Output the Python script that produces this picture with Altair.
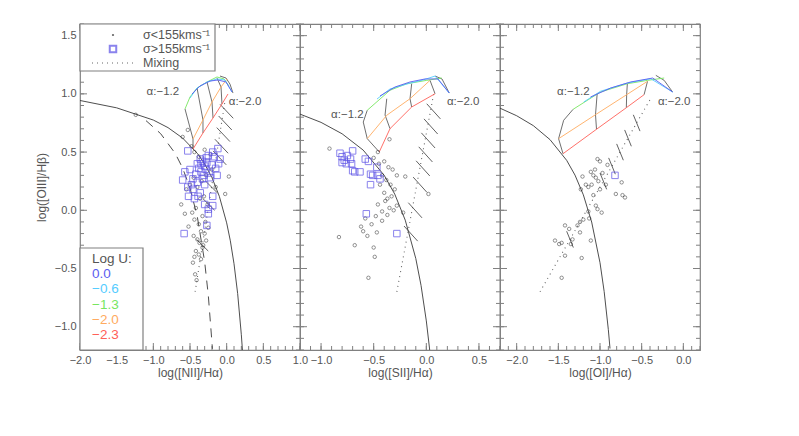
import altair as alt
import pandas as pd

FRAME = '#808080'
TXT = '#555555'
FONT = 'Liberation Sans'
H = 326
W1, W2, W3 = 220, 200, 200

# ---------------- axes ----------------
Y_DOMAIN = [-1.2, 1.6]
X1_DOMAIN = [-2.0, 1.0]
X2_DOMAIN = [-1.2, 0.7]
X3_DOMAIN = [-2.2, 0.2]
Y_MAJOR = [-1.0, -0.5, 0.0, 0.5, 1.0, 1.5]
X1_MAJOR = [-2.0, -1.5, -1.0, -0.5, 0.0, 0.5, 1.0]
X2_MAJOR = [-1.0, -0.5, 0.0, 0.5]
X3_MAJOR = [-2.0, -1.5, -1.0, -0.5, 0.0]
Y_MINOR = [k / 10 for k in range(-12, 17)]
X1_MINOR = [k / 10 for k in range(-20, 11)]
X2_MINOR = [k / 10 for k in range(-12, 8)]
X3_MINOR = [k / 10 for k in range(-22, 3)]

U_LEVELS = ['0.0', '−0.6', '−1.3', '−2.0', '−2.3']
U_COLORS = ['#5a5cf0', '#55ccff', '#77e65f', '#ffab60', '#ff6058']

# ---------------- demarcation curves ----------------
kew1_x = [-2.0, -1.5, -1.0, -0.8, -0.6, -0.4, -0.3, -0.2, -0.1, 0.0, 0.05, 0.1, 0.15, 0.2, 0.215]
kew1_y = [0.943, 0.880, 0.775, 0.710, 0.620, 0.489, 0.398, 0.280, 0.120, -0.108, -0.262, -0.459, -0.716, -1.069, -1.20]
kau1_x = [-1.1, -0.9, -0.7, -0.6, -0.5, -0.4, -0.3, -0.25, -0.2, -0.195]
kau1_y = [0.770, 0.658, 0.487, 0.362, 0.191, -0.056, -0.443, -0.733, -1.14, -1.19]
kew2_x = [-1.2, -1.0, -0.8, -0.6, -0.4, -0.3, -0.2, -0.1, -0.05, 0.0, 0.03, 0.032]
kew2_y = [0.826, 0.755, 0.657, 0.517, 0.300, 0.139, -0.085, -0.414, -0.646, -0.95, -1.183, -1.20]
kew3_x = [-2.2, -2.0, -1.8, -1.6, -1.4, -1.3, -1.2, -1.1, -1.0, -0.95, -0.9, -0.88]
kew3_y = [0.877, 0.812, 0.727, 0.607, 0.429, 0.302, 0.133, -0.101, -0.450, -0.698, -1.025, -1.187]

# ---------------- mixing lines (dotted) ----------------
mix1_x = [-0.43, -0.02]
mix1_y = [-0.70, 0.95]
mix2_x = [-0.28, 0.07]
mix2_y = [-0.70, 1.00]
mix3_x = [-1.72, -0.40]
mix3_y = [-0.70, 0.95]

# short hatch segments along the mixing lines
hat1_x1 = [-0.09, -0.11, -0.135, -0.16, -0.185, -0.287, -0.324, -0.411]
hat1_y1 = [0.91, 0.81, 0.71, 0.61, 0.51, 0.25, 0.10, -0.25]
hat1_x2 = [0.09, 0.07, 0.045, 0.02, -0.005, -0.127, -0.164, -0.251]
hat1_y2 = [0.79, 0.69, 0.59, 0.49, 0.39, 0.15, 0.00, -0.35]
hat2_x1 = [0.004, -0.022, -0.047, -0.072, -0.097, -0.125, -0.171, -0.212]
hat2_y1 = [0.915, 0.785, 0.665, 0.545, 0.425, 0.285, 0.065, -0.135]
hat2_x2 = [0.134, 0.108, 0.083, 0.058, 0.033, 0.005, -0.041, -0.082]
hat2_y2 = [0.785, 0.655, 0.535, 0.415, 0.295, 0.155, -0.065, -0.265]
hat3_x1 = [-0.60, -0.704, -0.80, -0.896, -1.00, -1.40]
hat3_y1 = [0.82, 0.69, 0.57, 0.45, 0.32, -0.18]
hat3_x2 = [-0.52, -0.624, -0.72, -0.816, -0.92, -1.32]
hat3_y2 = [0.68, 0.55, 0.43, 0.31, 0.18, -0.32]

# ---------------- AGN model grids ----------------
grid1_u = {
    '0.0': ([-0.473, -0.364, -0.227, -0.118, -0.009, 0.073], [0.999, 1.067, 1.110, 1.119, 1.102, 1.016]),
    '−0.6': ([-0.500, -0.404, -0.268, -0.132, -0.023, 0.073], [0.964, 1.050, 1.102, 1.128, 1.119, 1.016]),
    '−1.3': ([-0.568, -0.500, -0.404, -0.268, -0.132, -0.036, 0.032], [0.870, 0.973, 1.050, 1.102, 1.145, 1.128, 1.067]),
    '−2.0': ([-0.459, -0.323, -0.200, -0.077, 0.005], [0.612, 0.776, 0.930, 1.059, 1.128]),
    '−2.3': ([-0.459, -0.323, -0.186, -0.064, 0.018], [0.526, 0.664, 0.793, 0.913, 0.999]),
}
grid1_a = [
    ([-0.568, -0.459, -0.459], [0.870, 0.612, 0.526]),
    ([-0.404, -0.323, -0.323], [1.050, 0.776, 0.664]),
    ([-0.268, -0.200, -0.186], [1.102, 0.930, 0.793]),
    ([-0.132, -0.077, -0.064], [1.136, 1.059, 0.913]),
    ([-0.091, -0.009, 0.045, 0.086], [1.153, 1.136, 1.084, 1.007]),
]
grid2_u = {
    '0.0': ([-0.440, -0.297, -0.155, -0.012, 0.111, 0.218], [0.982, 1.059, 1.102, 1.128, 1.128, 1.007]),
    '−0.6': ([-0.468, -0.345, -0.183, -0.031, 0.083, 0.218], [0.956, 1.042, 1.085, 1.119, 1.153, 1.007]),
    '−1.3': ([-0.561, -0.345, -0.186, 0.004, 0.146], [0.859, 1.031, 1.087, 1.116, 1.136]),
    '−2.0': ([-0.561, -0.376, -0.155, 0.035], [0.615, 0.816, 0.958, 1.116]),
    '−2.3': ([-0.447, -0.345, -0.139, 0.083], [0.501, 0.701, 0.887, 1.001]),
}
grid2_a = [
    ([-0.561, -0.599, -0.561, -0.447], [0.859, 0.758, 0.615, 0.501]),
    ([-0.376, -0.392, -0.345], [0.958, 0.818, 0.701]),
    ([-0.139, -0.155, -0.139], [1.087, 0.958, 0.887]),
    ([0.035, 0.083], [1.116, 1.001]),
    ([0.083, 0.149, 0.218], [1.153, 1.128, 1.007]),
]
grid3_u = {
    '0.0': ([-1.114, -0.873, -0.632, -0.367, -0.129], [0.973, 1.050, 1.102, 1.136, 1.016]),
    '−0.6': ([-1.195, -0.994, -0.672, -0.391, -0.129], [0.930, 1.022, 1.093, 1.130, 1.016]),
    '−1.3': ([-1.323, -0.994, -0.672, -0.430, -0.230], [0.867, 1.016, 1.087, 1.116, 1.136]),
    '−2.0': ([-1.497, -1.054, -0.680, -0.430], [0.615, 0.821, 0.993, 1.108]),
    '−2.3': ([-1.444, -1.042, -0.684, -0.471], [0.486, 0.696, 0.881, 0.993]),
}
grid3_a = [
    ([-1.323, -1.436, -1.497, -1.444], [0.867, 0.773, 0.615, 0.486]),
    ([-1.034, -1.054, -1.042], [1.001, 0.821, 0.696]),
    ([-0.672, -0.680, -0.684], [1.087, 0.993, 0.881]),
    ([-0.430, -0.471], [1.108, 0.993]),
    ([-0.330, -0.230, -0.129], [1.159, 1.116, 1.016]),
]

# alpha labels
alab1 = ([-0.87, 0.25], [1.02, 0.93], ['α:−1.2', 'α:−2.0'])
alab2 = ([-0.75, 0.35], [0.82, 0.93], ['α:−1.2', 'α:−2.0'])
alab3 = ([-1.32, -0.11], [1.02, 0.93], ['α:−1.2', 'α:−2.0'])

# ---------------- observations ----------------
sq1_x = [-0.53, -0.36, -0.12, -0.19, -0.09, -0.25, -0.40, -0.33, -0.30, -0.27, -0.38, -0.35, -0.31, -0.28, -0.42,
         -0.50, -0.57, -0.46, -0.60, -0.13, -0.20, -0.15, -0.53, -0.46, -0.40, -0.30, -0.19, -0.25, -0.30, -0.19,
         -0.25, -0.27, -0.58, -0.22, -0.36, -0.44, -0.24, -0.33, -0.17, -0.48, -0.39, -0.11, -0.28, -0.35, -0.52]
sq1_y = [0.51, 0.44, 0.53, 0.50, 0.44, 0.47, 0.40, 0.42, 0.38, 0.41, 0.36, 0.33, 0.30, 0.35, 0.31,
         0.35, 0.33, 0.27, 0.26, 0.30, 0.39, 0.36, 0.20, 0.18, 0.24, 0.22, 0.04, 0.01, 0.05, 0.12,
         -0.03, -0.13, -0.20, 0.28, 0.15, 0.10, 0.32, 0.27, 0.46, 0.22, 0.12, 0.40, 0.45, 0.40, 0.12]
c1_x = [-1.24, -0.53, -0.60, -0.48, -0.44, -0.38, -0.30, -0.22, -0.28, -0.34, -0.40, -0.45, -0.50, -0.55, -0.36,
        -0.31, -0.26, -0.42, -0.47, -0.33, -0.29, -0.38, -0.44, -0.35, -0.30, -0.25, -0.40, -0.45, -0.52, -0.37,
        -0.32, -0.28, -0.42, -0.38, -0.35, -0.33, -0.44, -0.46, -0.43, -0.41, 0.03, -0.02, -0.15, -0.20, -0.62, -0.57]
c1_y = [0.82, 0.69, 0.63, 0.55, 0.50, 0.46, 0.52, 0.48, 0.30, 0.25, 0.20, 0.28, 0.22, 0.18, 0.10,
        0.12, 0.05, 0.02, -0.02, -0.05, -0.10, -0.12, -0.08, -0.18, -0.20, -0.15, -0.25, -0.22, -0.14, -0.28,
        -0.30, -0.26, -0.35, -0.38, -0.42, -0.32, -0.40, -0.45, -0.55, -0.60, 0.29, 0.14, 0.20, 0.35, 0.05, -0.03]
sq2_x = [-0.82, -0.80, -0.78, -0.75, -0.72, -0.70, -0.71, -0.68, -0.63, -0.70, -0.58, -0.55, -0.53, -0.51,
         -0.53, -0.47, -0.46, -0.44, -0.57, -0.28, -0.80, -0.76]
sq2_y = [0.49, 0.46, 0.43, 0.47, 0.44, 0.51, 0.40, 0.33, 0.33, 0.34, 0.44, 0.42, 0.31, 0.30,
         0.22, 0.37, 0.30, 0.27, -0.03, -0.20, 0.41, 0.40]
c2_x = [-0.92, -0.35, -0.46, -0.50, -0.45, -0.40, -0.36, -0.32, -0.28, -0.42, -0.38, -0.34, -0.30, -0.44,
        -0.40, -0.37, -0.33, -0.20, 0.02, -0.83, -0.68, -0.62, -0.58, -0.55, -0.49, -0.50, -0.47, -0.42,
        -0.37, -0.42, -0.46, -0.28, -0.22, -0.60, -0.52, -0.56, -0.48, -0.39, -0.35, -0.31]
c2_y = [0.53, 0.61, 0.50, 0.45, 0.40, 0.42, 0.37, 0.35, 0.30, 0.30, 0.26, 0.22, 0.18, 0.22,
        0.15, 0.10, 0.12, 0.29, 0.14, -0.23, -0.30, -0.14, -0.07, -0.58, -0.40, -0.32, -0.19, -0.09,
        -0.04, -0.01, 0.05, 0.04, -0.02, -0.18, -0.12, -0.22, -0.05, 0.08, 0.02, 0.00]
sq3_x = [-0.82]
sq3_y = [0.30]
c3_x = [-1.03, -1.00, -0.91, -1.11, -1.08, -1.05, -1.02, -1.10, -1.14, -1.00, -0.93, -1.21, -1.17, -1.23,
        -0.74, -0.81, -0.73, -0.70, -1.54, -1.49, -1.46, -1.42, -1.37, -1.42, -1.46, -1.22, -1.24, -1.27,
        -1.24, -1.20, -1.13, -1.14, -1.11, -1.05, -1.03, -0.98, -1.33, -1.35, -1.06, -1.08, -0.97]
c3_y = [0.44, 0.42, 0.39, 0.33, 0.30, 0.28, 0.25, 0.22, 0.20, 0.18, 0.22, 0.29, 0.22, 0.18,
        0.24, 0.14, 0.13, 0.11, -0.26, -0.29, -0.28, -0.13, -0.16, -0.39, -0.58, -0.41, -0.19, -0.13,
        -0.10, -0.08, -0.07, -0.01, -0.26, 0.04, 0.01, -0.02, -0.25, -0.29, 0.35, 0.13, 0.32]

SQ_COLOR = '#5a4fe6'
LINE = '#3a3a3a'


def xenc(dom, major, title, field='x'):
    ax = alt.Axis(values=major, format='.1f', ticks=False, domain=False, grid=False, labelFlush=False,
                  labelOverlap=False, labelBound=False, labelPadding=4, titlePadding=2, title=title)
    return alt.X(f'{field}:Q', scale=alt.Scale(domain=dom, nice=False, zero=False), axis=ax)


def yenc(show, field='y'):
    if show:
        ax = alt.Axis(values=Y_MAJOR, format='.1f', ticks=False, domain=False, grid=False, labelFlush=False,
                      labelOverlap=False, labelPadding=4, titlePadding=6, title='log([OIII]/Hβ)')
        return alt.Y(f'{field}:Q', scale=alt.Scale(domain=Y_DOMAIN, nice=False, zero=False), axis=ax)
    return alt.Y(f'{field}:Q', scale=alt.Scale(domain=Y_DOMAIN, nice=False, zero=False), axis=None)


def one():
    return pd.DataFrame({'a': [0]})


def panel(dom, major, minor, width, title, show_y, kew, kau, mix, hat, gu, ga, alab, sq, circ, legends):
    X = lambda f='x': xenc(dom, major, title, f)
    Y = lambda f='y': yenc(show_y, f)
    layers = []
    # ticks (inward, all four sides)
    for vals, L in ((major, 7), (minor, 4)):
        d = pd.DataFrame({'x': vals})
        b = alt.Chart(d).mark_rule(color=FRAME, strokeWidth=1)
        layers.append(b.encode(x=X(), y=alt.value(H), y2=alt.value(H - L)))
        layers.append(b.encode(x=X(), y=alt.value(0), y2=alt.value(L)))
    for vals, L in ((Y_MAJOR, 7), (Y_MINOR, 4)):
        d = pd.DataFrame({'y': vals})
        b = alt.Chart(d).mark_rule(color=FRAME, strokeWidth=1)
        layers.append(b.encode(y=Y(), x=alt.value(0), x2=alt.value(L)))
        layers.append(b.encode(y=Y(), x=alt.value(width - L), x2=alt.value(width)))
    # Kewley curve
    dk = pd.DataFrame({'x': kew[0], 'y': kew[1], 'o': list(range(len(kew[0])))})
    layers.append(alt.Chart(dk).mark_line(color=LINE, strokeWidth=0.9, clip=True).encode(x=X(), y=Y(), order='o:Q'))
    if kau is not None:
        dd = pd.DataFrame({'x': kau[0], 'y': kau[1], 'o': list(range(len(kau[0])))})
        layers.append(alt.Chart(dd).mark_line(color=LINE, strokeWidth=0.9, strokeDash=[9, 7], clip=True)
                      .encode(x=X(), y=Y(), order='o:Q'))
    # mixing line
    dm = pd.DataFrame({'x': mix[0], 'y': mix[1]})
    layers.append(alt.Chart(dm).mark_line(color='#666666', strokeWidth=1.1, strokeDash=[1, 4]).encode(x=X(), y=Y()))
    # hatch segments
    dh = pd.DataFrame({'x': hat[0], 'y': hat[1], 'x2': hat[2], 'y2': hat[3]})
    layers.append(alt.Chart(dh).mark_rule(color=LINE, strokeWidth=0.8)
                  .encode(x=X(), y=Y(), x2='x2:Q', y2='y2:Q'))
    # model grid: constant alpha (black)
    rows = []
    for i, (xs, ys) in enumerate(ga):
        for j, (a, b) in enumerate(zip(xs, ys)):
            rows.append({'x': a, 'y': b, 'id': i, 'o': j})
    layers.append(alt.Chart(pd.DataFrame(rows)).mark_line(color='#4a4a4a', strokeWidth=0.8)
                  .encode(x=X(), y=Y(), detail='id:N', order='o:Q'))
    # model grid: constant U (coloured)
    rows = []
    for u in ['−2.3', '−2.0', '−1.3', '−0.6', '0.0']:
        xs, ys = gu[u]
        for j, (a, b) in enumerate(zip(xs, ys)):
            rows.append({'x': a, 'y': b, 'u': u, 'o': j})
    layers.append(alt.Chart(pd.DataFrame(rows)).mark_line(strokeWidth=0.9)
                  .encode(x=X(), y=Y(), order='o:Q',
                          color=alt.Color('u:N', scale=alt.Scale(domain=U_LEVELS, range=U_COLORS), legend=None)))
    # alpha labels
    da = pd.DataFrame({'x': alab[0], 'y': alab[1], 't': alab[2]})
    layers.append(alt.Chart(da).mark_text(font=FONT, fontSize=11.5, color=TXT).encode(x=X(), y=Y(), text='t:N'))
    # data points
    dc = pd.DataFrame({'x': circ[0], 'y': circ[1]})
    layers.append(alt.Chart(dc).mark_point(shape='circle', filled=False, size=12, color='#222222', strokeWidth=0.7)
                  .encode(x=X(), y=Y()))
    ds = pd.DataFrame({'x': sq[0], 'y': sq[1]})
    layers.append(alt.Chart(ds).mark_point(shape='square', filled=False, size=42, color=SQ_COLOR, strokeWidth=1)
                  .encode(x=X(), y=Y()))
    if legends:
        # top-left symbol legend
        layers.append(alt.Chart(one()).mark_rect(fill='white', stroke=FRAME, strokeWidth=1.2)
                      .encode(x=alt.value(0), x2=alt.value(135), y=alt.value(0), y2=alt.value(47)))
        layers.append(alt.Chart(one()).mark_point(shape='circle', filled=True, size=5, color='#222222')
                      .encode(x=alt.value(33), y=alt.value(11)))
        layers.append(alt.Chart(one()).mark_point(shape='square', filled=False, size=42, color=SQ_COLOR)
                      .encode(x=alt.value(33), y=alt.value(25)))
        layers.append(alt.Chart(one()).mark_rule(color='#666666', strokeWidth=1.1, strokeDash=[1, 4])
                      .encode(x=alt.value(12), x2=alt.value(55), y=alt.value(39)))
        for txt, yy in (('σ<155kms⁻¹', 11), ('σ>155kms⁻¹', 25), ('Mixing', 39)):
            layers.append(alt.Chart(one()).mark_text(font=FONT, fontSize=12.5, color=TXT, align='left', baseline='middle')
                          .encode(x=alt.value(63), y=alt.value(yy), text=alt.value(txt)))
        # bottom-left Log U legend
        layers.append(alt.Chart(one()).mark_rect(fill='white', stroke=FRAME, strokeWidth=1.2)
                      .encode(x=alt.value(0), x2=alt.value(63), y=alt.value(224), y2=alt.value(H)))
        layers.append(alt.Chart(one()).mark_text(font=FONT, fontSize=13.5, color=TXT, align='left', baseline='middle')
                      .encode(x=alt.value(12), y=alt.value(235), text=alt.value('Log U:')))
        for k, (lab, col) in enumerate(zip(U_LEVELS, U_COLORS)):
            layers.append(alt.Chart(one()).mark_text(font=FONT, fontSize=13.5, color=col, align='left', baseline='middle')
                          .encode(x=alt.value(12), y=alt.value(250 + 15.3 * k), text=alt.value(lab)))
    return alt.layer(*layers).properties(width=width, height=H)


p1 = panel(X1_DOMAIN, X1_MAJOR, X1_MINOR, W1, 'log([NII]/Hα)', True, (kew1_x, kew1_y), (kau1_x, kau1_y),
           (mix1_x, mix1_y), (hat1_x1, hat1_y1, hat1_x2, hat1_y2), grid1_u, grid1_a, alab1,
           (sq1_x, sq1_y), (c1_x, c1_y), True)
p2 = panel(X2_DOMAIN, X2_MAJOR, X2_MINOR, W2, 'log([SII]/Hα)', False, (kew2_x, kew2_y), None,
           (mix2_x, mix2_y), (hat2_x1, hat2_y1, hat2_x2, hat2_y2), grid2_u, grid2_a, alab2,
           (sq2_x, sq2_y), (c2_x, c2_y), False)
p3 = panel(X3_DOMAIN, X3_MAJOR, X3_MINOR, W3, 'log([OI]/Hα)', False, (kew3_x, kew3_y), None,
           (mix3_x, mix3_y), (hat3_x1, hat3_y1, hat3_x2, hat3_y2), grid3_u, grid3_a, alab3,
           (sq3_x, sq3_y), (c3_x, c3_y), False)

chart = alt.hconcat(p1, p2, p3, spacing=0, bounds='flush').resolve_scale(x='independent').configure_view(
    stroke=FRAME, strokeWidth=1.2
).configure_axis(
    labelFont=FONT, titleFont=FONT, labelFontSize=11, titleFontSize=12, labelColor=TXT, titleColor=TXT,
    titleFontWeight='normal'
).properties(padding={'left': 26, 'top': 14, 'right': 5, 'bottom': 5})

chart.save('out.html', embed_options={'renderer': 'svg', 'actions': False})
